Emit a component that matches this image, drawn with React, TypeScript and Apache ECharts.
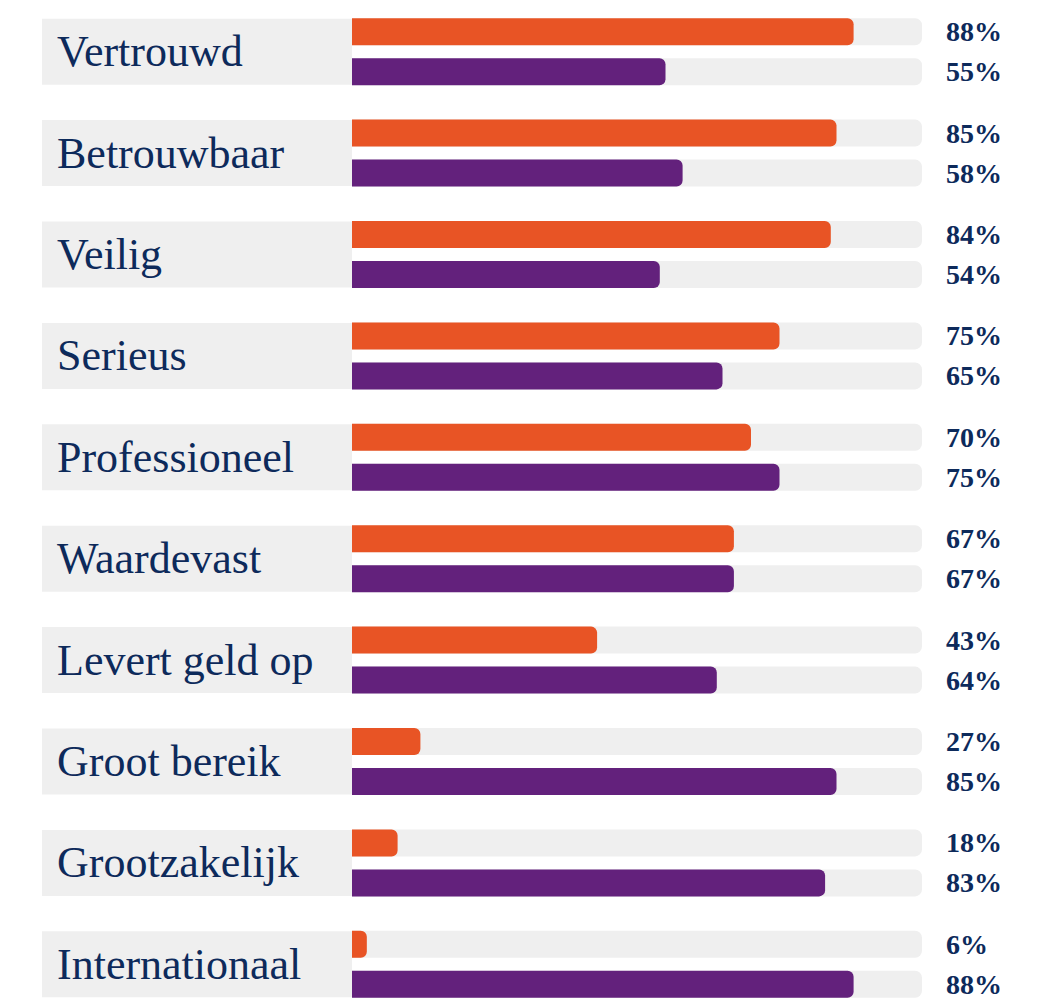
import React, { useEffect, useRef } from "react";
import * as echarts from "echarts";

const categories = [
  "Vertrouwd",
  "Betrouwbaar",
  "Veilig",
  "Serieus",
  "Professioneel",
  "Waardevast",
  "Levert geld op",
  "Groot bereik",
  "Grootzakelijk",
  "Internationaal",
];
// bar lengths as drawn in the picture (%)
const orangeBars = [88, 85, 84, 75, 70, 67, 43, 12, 8, 2.6];
const purpleBars = [55, 58, 54, 65, 75, 67, 64, 85, 83, 88];
// printed percentages
const orangeLabels = [88, 85, 84, 75, 70, 67, 43, 27, 18, 6];
const purpleLabels = [55, 58, 54, 65, 75, 67, 64, 85, 83, 88];

const W = 1055;
const H = 1016;
const GRID_LEFT = 352;
const GRID_RIGHT = 133;
const LABEL_X = W - GRID_RIGHT + 24;

const ORANGE = "#e85425";
const PURPLE = "#63217c";
const TRACK = "#efefef";
const NAVY = "#0d2a5b";

export default function App() {
  const ref = useRef<HTMLDivElement>(null);
  useEffect(() => {
    document.body.style.margin = "0";
    document.body.style.overflow = "hidden";
    const chart = echarts.init(ref.current!, null, { renderer: "svg" });
    const valueLabel = (labels: number[]) => ({
      show: true,
      position: "right" as const,
      formatter: (p: any) => labels[p.dataIndex] + "%",
      color: NAVY,
      fontFamily: "Liberation Serif",
      fontWeight: "bold" as const,
      fontSize: 28,
    });
    const layout = (params: any) => ({
      x: LABEL_X,
      y: params.rect.y + params.rect.height / 2,
      align: "left",
      verticalAlign: "middle",
    });
    chart.setOption({
      animation: false,
      backgroundColor: "#ffffff",
      grid: { left: GRID_LEFT, right: GRID_RIGHT, top: 1, bottom: 1, containLabel: false },
      xAxis: {
        type: "value",
        min: 0,
        max: 100,
        show: false,
      },
      yAxis: {
        type: "category",
        data: categories,
        inverse: true,
        axisLine: { show: false },
        axisTick: { show: false },
        splitLine: { show: false },
        axisLabel: {
          align: "left",
          margin: 310,
          backgroundColor: TRACK,
          width: 295,
          height: 60,
          lineHeight: 60,
          padding: [0, 0, 6, 15],
          color: NAVY,
          fontFamily: "Liberation Serif",
          fontSize: 44,
        },
      },
      series: [
        {
          type: "bar",
          data: orangeBars,
          barWidth: 27,
          barGap: "48%",
          itemStyle: { color: ORANGE, borderRadius: [0, 6, 6, 0] },
          showBackground: true,
          backgroundStyle: { color: TRACK, borderRadius: [0, 7, 7, 0] },
          label: valueLabel(orangeLabels),
          labelLayout: layout,
        },
        {
          type: "bar",
          data: purpleBars,
          barWidth: 27,
          itemStyle: { color: PURPLE, borderRadius: [0, 6, 6, 0] },
          showBackground: true,
          backgroundStyle: { color: TRACK, borderRadius: [0, 7, 7, 0] },
          label: valueLabel(purpleLabels),
          labelLayout: layout,
        },
      ],
    });
    return () => chart.dispose();
  }, []);
  return (
    <div
      ref={ref}
      style={{ position: "fixed", left: 0, top: 0, width: W, height: H }}
    />
  );
}
